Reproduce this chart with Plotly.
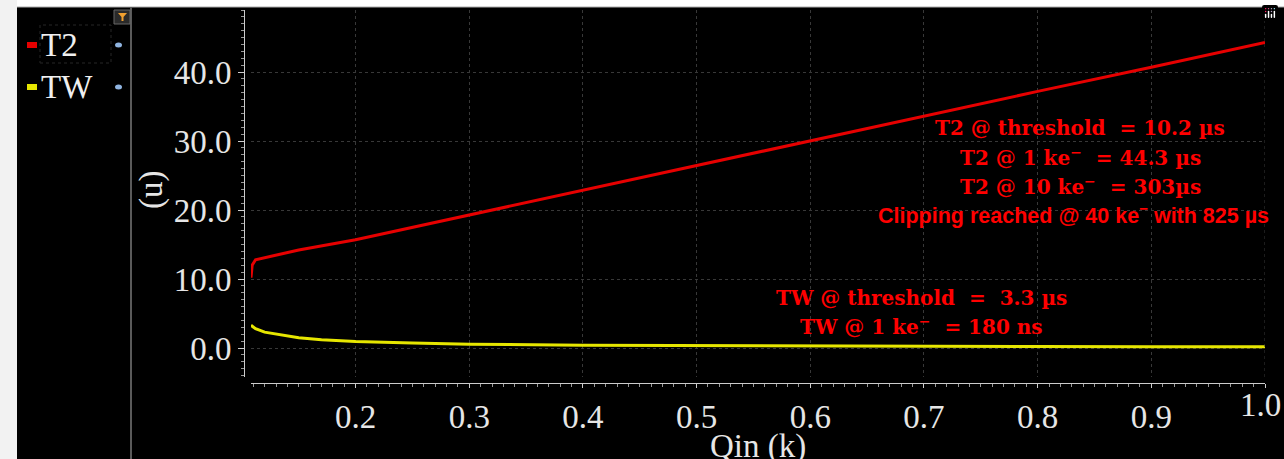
import plotly.graph_objects as go

W, H = 1284, 459

# ---- data ----
qin_t2 = [0.108, 0.109, 0.112, 0.15, 0.2, 0.3, 0.4, 0.5, 0.6, 0.7, 0.8, 0.9, 1.0]
t2_vals = [10.2, 12.0, 12.8, 14.2, 15.7, 19.3, 22.9, 26.4, 30.0, 33.6, 37.2, 40.7, 44.3]

qin_tw = [0.108, 0.112, 0.12, 0.13, 0.15, 0.17, 0.2, 0.25, 0.3, 0.4, 0.5, 0.6, 0.7, 0.8, 0.9, 1.0]
tw_vals = [3.3, 2.8, 2.3, 2.0, 1.5, 1.2, 0.95, 0.72, 0.55, 0.42, 0.35, 0.30, 0.26, 0.22, 0.20, 0.18]

x_ticks = [0.2, 0.3, 0.4, 0.5, 0.6, 0.7, 0.8, 0.9, 1.0]
y_ticks = [0, 10, 20, 30, 40]
y_ticklabels = ["0.0", "10.0", "20.0", "30.0", "40.0"]

series_names = ["T2", "TW"]
series_colors = ["#e60000", "#e6e600"]

t2_notes = [
    "T2 @ threshold  = 10.2 µs",
    "T2 @ 1 ke<sup>−</sup>  = 44.3 µs",
    "T2 @ 10 ke<sup>−</sup>  = 303µs",
]
clip_note = "Clipping reached @ 40 ke<sup>−</sup> with 825 µs"
tw_notes = [
    "TW @ threshold  =  3.3 µs",
    "TW @ 1 ke<sup>−</sup>  = 180 ns",
]


def px(x):
    return x / W


def py(y):
    return 1 - y / H


fig = go.Figure()
fig.add_trace(go.Scatter(x=qin_t2, y=t2_vals, mode="lines", name=series_names[0],
                         line=dict(color=series_colors[0], width=3)))
fig.add_trace(go.Scatter(x=qin_tw, y=tw_vals, mode="lines", name=series_names[1],
                         line=dict(color=series_colors[1], width=3)))

tickfont = dict(family="Liberation Serif", size=33, color="#e6e6e6")
grid = dict(showgrid=True, gridcolor="#383838", griddash="dot", gridwidth=1)

fig.update_layout(
    width=W, height=H,
    margin=dict(l=0, r=0, t=0, b=0),
    paper_bgcolor="black", plot_bgcolor="black",
    showlegend=False,
    modebar=dict(bgcolor="rgba(0,0,0,0)", color="rgba(0,0,0,0)", activecolor="rgba(0,0,0,0)"),
    xaxis=dict(
        domain=[px(251), px(1265)], range=[0.108, 1.0],
        anchor="free", position=py(383),
        tickvals=x_ticks, ticktext=[f"{v:.1f}" for v in x_ticks],
        ticks="outside", ticklen=4, tickcolor="#cccccc",
        minor=dict(dtick=0.01, ticklen=3, tickcolor="#999999", ticks="outside", showgrid=False),
        showline=True, linecolor="#cccccc", linewidth=1,
        tickfont=tickfont, zeroline=False, **grid,
    ),
    yaxis=dict(
        domain=[py(377), py(10)], range=[-4.2, 49.0],
        anchor="free", position=px(244),
        tickvals=y_ticks, ticktext=y_ticklabels,
        ticks="outside", ticklen=6, tickcolor="#cccccc",
        minor=dict(dtick=1, ticklen=3, tickcolor="#999999", ticks="outside", showgrid=False),
        showline=True, linecolor="#cccccc", linewidth=1,
        tickfont=tickfont, zeroline=False, **grid,
    ),
)

shapes = []
# white top strip and light left strip
shapes.append(dict(type="rect", xref="paper", yref="paper", x0=0, x1=1, y0=py(7), y1=1,
                   fillcolor="white", line=dict(width=0), layer="above"))
shapes.append(dict(type="line", xref="paper", yref="paper", x0=px(17), x1=1, y0=py(7), y1=py(7),
                   line=dict(color="#aaaaaa", width=1), layer="above"))
shapes.append(dict(type="rect", xref="paper", yref="paper", x0=0, x1=px(17), y0=0, y1=1,
                   fillcolor="#f2f2f2", line=dict(width=0), layer="above"))
# separator between legend panel and plot
shapes.append(dict(type="line", xref="paper", yref="paper", x0=px(131), x1=px(131), y0=0, y1=py(7),
                   line=dict(color="#5a5a5a", width=2), layer="above"))
# vertical grid at the right edge (x = 1.0)
shapes.append(dict(type="line", xref="x", yref="paper", x0=x_ticks[-1], x1=x_ticks[-1],
                   y0=py(377), y1=py(10), line=dict(color="#383838", width=1, dash="dot")))
# legend swatches
for i, yy in enumerate([45, 87]):
    shapes.append(dict(type="rect", xref="paper", yref="paper", x0=px(27), x1=px(37),
                       y0=py(yy + 3), y1=py(yy - 3), fillcolor=series_colors[i],
                       line=dict(width=0), layer="above"))
    # eye icon
    shapes.append(dict(type="circle", xref="paper", yref="paper", x0=px(115), x1=px(122),
                       y0=py(yy + 2.5), y1=py(yy - 2.5), fillcolor="#8fb4e0",
                       line=dict(width=0), layer="above"))
# legend selection dotted box
shapes.append(dict(type="rect", xref="paper", yref="paper", x0=px(40), x1=px(111),
                   y0=py(63), y1=py(25), line=dict(color="#262626", width=1, dash="dot"),
                   layer="above"))
# filter button
shapes.append(dict(type="rect", xref="paper", yref="paper", x0=px(114), x1=px(130),
                   y0=py(24), y1=py(10), fillcolor="#2a2a2a",
                   line=dict(color="#666666", width=1), layer="above"))
shapes.append(dict(type="path", xref="paper", yref="paper",
                   path=f"M {px(118)} {py(13)} L {px(127)} {py(13)} L {px(123.5)} {py(17)} "
                        f"L {px(123.5)} {py(21)} L {px(121.5)} {py(21)} L {px(121.5)} {py(17)} Z",
                   fillcolor="#f0a030", line=dict(width=0), layer="above"))
fig.update_layout(shapes=shapes)

ann = []
for i, yy in enumerate([45, 87]):
    ann.append(dict(xref="paper", yref="paper", x=px(39), y=py(yy), xanchor="left", yanchor="middle",
                    text=series_names[i], showarrow=False,
                    font=dict(family="Liberation Serif", size=33, color="#f0f0f0")))
# last x tick label (plotly hides it since it touches the page edge)
ann.append(dict(xref="paper", yref="paper", x=px(1283), y=py(405), xanchor="right", yanchor="middle",
                text=f"{x_ticks[-1]:.1f}", showarrow=False, font=tickfont))
ann.append(dict(xref="paper", yref="paper", x=px(758), y=py(446), xanchor="center", yanchor="middle",
                text="Qin (k)", showarrow=False,
                font=dict(family="Liberation Serif", size=33, color="#e6e6e6")))
ann.append(dict(xref="paper", yref="paper", x=px(151), y=py(190), xanchor="center", yanchor="middle",
                text="(u)", textangle=-90, showarrow=False,
                font=dict(family="Liberation Serif", size=33, color="#e6e6e6")))
note_font = dict(family="DejaVu Serif", size=20, color="#ff0000")
for t, yy in zip(t2_notes, [128, 157, 186]):
    ann.append(dict(xref="paper", yref="paper", x=px(1080), y=py(yy), xanchor="center",
                    yanchor="middle", text=f"<b>{t}</b>", showarrow=False, font=note_font))
ann.append(dict(xref="paper", yref="paper", x=px(1073), y=py(214), xanchor="center",
                yanchor="middle", text=f"<b>{clip_note}</b>", showarrow=False,
                font=dict(family="Liberation Sans Narrow, Liberation Sans", size=21.5, color="#ff0000")))
for t, yy in zip(tw_notes, [298, 326]):
    ann.append(dict(xref="paper", yref="paper", x=px(921), y=py(yy), xanchor="center",
                    yanchor="middle", text=f"<b>{t}</b>", showarrow=False, font=note_font))
fig.update_layout(annotations=ann)

post = "document.body.style.margin='0';document.body.style.overflow='hidden';"
fig.write_html("out.html", post_script=post)
